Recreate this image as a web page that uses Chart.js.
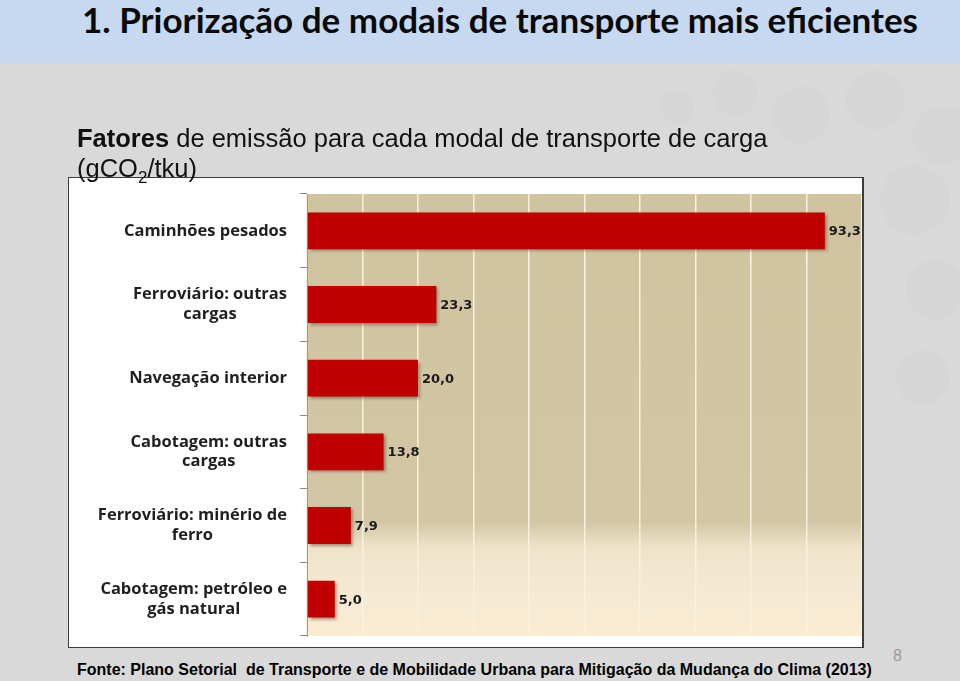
<!DOCTYPE html>
<html><head><meta charset="utf-8">
<script src="https://cdn.jsdelivr.net/npm/chart.js@4"></script>
<style>
html,body{margin:0;padding:0;}
body{width:960px;height:681px;position:relative;overflow:hidden;background:#d9d9d9;font-family:"Liberation Sans",Arial,sans-serif;}
#band{position:absolute;left:0;top:0;width:960px;height:63px;background:#c6d9f1;}
#title{position:absolute;left:82px;top:-2px;font-family:Lato,sans-serif;font-weight:bold;font-size:35px;line-height:42px;color:#0a0a0a;white-space:nowrap;transform-origin:0 0;}
#sub{position:absolute;left:77px;top:122.5px;font-size:25.5px;line-height:30px;color:#111;white-space:nowrap;z-index:2;}
#sub b{font-weight:bold;}
#sub sub{font-size:17px;vertical-align:-6px;line-height:0;}
#box{position:absolute;left:68px;top:177px;width:796px;height:471px;box-sizing:border-box;border:1px solid #3c3c3c;border-right-width:2px;background:#fff;z-index:1;}
#box canvas{display:block;}
#src{position:absolute;left:77px;top:660px;font-weight:bold;font-size:16px;line-height:20px;color:#000;white-space:pre;}
#pg{position:absolute;left:893px;top:647px;font-size:16px;color:#9a9a9a;font-family:"Liberation Sans",Arial,sans-serif;}
.c{position:absolute;border-radius:50%;background:rgba(0,0,0,0.011);}
</style></head>
<body>
<div id="band"></div>
<div id="title">1. Priorização de modais de transporte mais eficientes</div>
<div class="c" style="left:712px;top:70px;width:46px;height:46px"></div>
<div class="c" style="left:772px;top:86px;width:58px;height:58px"></div>
<div class="c" style="left:845px;top:70px;width:60px;height:60px"></div>
<div class="c" style="left:912px;top:105px;width:60px;height:60px"></div>
<div class="c" style="left:880px;top:165px;width:70px;height:70px"></div>
<div class="c" style="left:905px;top:260px;width:60px;height:60px"></div>
<div class="c" style="left:895px;top:350px;width:55px;height:55px"></div>
<div class="c" style="left:660px;top:90px;width:34px;height:34px"></div>
<div id="sub"><b>Fatores</b> de emissão para cada modal de transporte de carga<br>(gCO<sub>2</sub>/tku)</div>
<div id="box"><canvas id="c" width="793" height="469"></canvas></div>
<div id="src">Fonte: Plano Setorial  de Transporte e de Mobilidade Urbana para Mitigação da Mudança do Clima (2013)</div>
<div id="pg">8</div>
<script>
const categories = [
  ["Caminhões pesados"],
  ["Ferroviário: outras", "cargas"],
  ["Navegação interior"],
  ["Cabotagem: outras", "cargas"],
  ["Ferroviário: minério de", "ferro"],
  ["Cabotagem: petróleo e", "gás natural"]
];
const emissionValues = [93.3, 23.3, 20.0, 13.8, 7.9, 5.0];
const xMin = 0, xMax = 100, xStep = 10;

// fit title width
(function(){
  const t = document.getElementById('title');
  const w = t.getBoundingClientRect().width;
  t.style.transform = 'scaleX(' + (836 / w) + ')';
})();

const bgPlugin = {
  id: 'plotBg',
  beforeDraw(chart) {
    const {ctx, chartArea: a} = chart;
    const g = ctx.createLinearGradient(0, a.top, 0, a.bottom);
    g.addColorStop(0, '#d0c3a0');
    g.addColorStop(0.74, '#d2c6a4');
    g.addColorStop(0.80, '#efe4ca');
    g.addColorStop(0.9, '#f5e9d3');
    g.addColorStop(1, '#fbecd2');
    ctx.save();
    ctx.fillStyle = g;
    ctx.fillRect(a.left, a.top, a.right - a.left, a.bottom - a.top);
    ctx.restore();
  }
};
const shadowPlugin = {
  id: 'barShadow',
  beforeDatasetDraw(chart) {
    const ctx = chart.ctx;
    ctx.save();
    ctx.shadowColor = 'rgba(60,30,20,0.45)';
    ctx.shadowBlur = 3;
    ctx.shadowOffsetX = 2;
    ctx.shadowOffsetY = 2;
  },
  afterDatasetDraw(chart) { chart.ctx.restore(); }
};
const labelPlugin = {
  id: 'valLabels',
  afterDatasetsDraw(chart) {
    const ctx = chart.ctx;
    const meta = chart.getDatasetMeta(0);
    ctx.save();
    ctx.font = 'bold 13px "DejaVu Sans", sans-serif';
    ctx.fillStyle = '#1a1a1a';
    ctx.textAlign = 'left';
    ctx.textBaseline = 'middle';
    meta.data.forEach((el, i) => {
      const v = chart.data.datasets[0].data[i];
      ctx.fillText(v.toFixed(1).replace('.', ','), el.x + 4, el.y + 1);
    });
    ctx.restore();
  }
};
// category labels: block right-aligned to the axis, lines centred within block
const catLabelPlugin = {
  id: 'catLabels',
  afterDraw(chart) {
    const ctx = chart.ctx;
    const y = chart.scales.y;
    const lineH = 19.8;
    ctx.save();
    ctx.font = 'bold 16.5px "Open Sans", sans-serif';
    ctx.fillStyle = '#1f1f1f';
    ctx.textAlign = 'center';
    ctx.textBaseline = 'middle';
    chart.data.labels.forEach((lines, i) => {
      const cy = y.getPixelForTick(i);
      const maxW = Math.max(...lines.map(l => ctx.measureText(l).width));
      const right = chart.chartArea.left - 20;
      const cx = right - maxW / 2;
      const top = cy - (lines.length - 1) * lineH / 2;
      lines.forEach((l, k) => ctx.fillText(l, cx, top + k * lineH));
    });
    ctx.restore();
  }
};

new Chart(document.getElementById('c'), {
  type: 'bar',
  data: {
    labels: categories,
    datasets: [{
      data: emissionValues,
      backgroundColor: '#c00000',
      borderWidth: 0,
      categoryPercentage: 1.0,
      barPercentage: 0.5
    }]
  },
  plugins: [bgPlugin, shadowPlugin, labelPlugin, catLabelPlugin],
  options: {
    indexAxis: 'y',
    responsive: false,
    animation: false,
    layout: { padding: { top: 16, right: 0, bottom: 11, left: 0 } },
    plugins: { legend: { display: false }, tooltip: { enabled: false } },
    scales: {
      x: {
        min: xMin, max: xMax,
        ticks: { display: false, stepSize: xStep },
        grid: { color: '#f7f1df', lineWidth: 1.5, drawTicks: false },
        border: { display: false },
        afterFit(s) { s.height = 0; s.paddingLeft = 0; s.paddingRight = 0; }
      },
      y: {
        ticks: { display: false },
        grid: { drawOnChartArea: false, tickLength: 7, color: '#8a8a8a' },
        border: { display: true, color: '#9a9a9a' },
        afterFit(s) { s.width = 238; s.paddingTop = 0; s.paddingBottom = 0; }
      }
    }
  }
});
</script>
</body></html>
